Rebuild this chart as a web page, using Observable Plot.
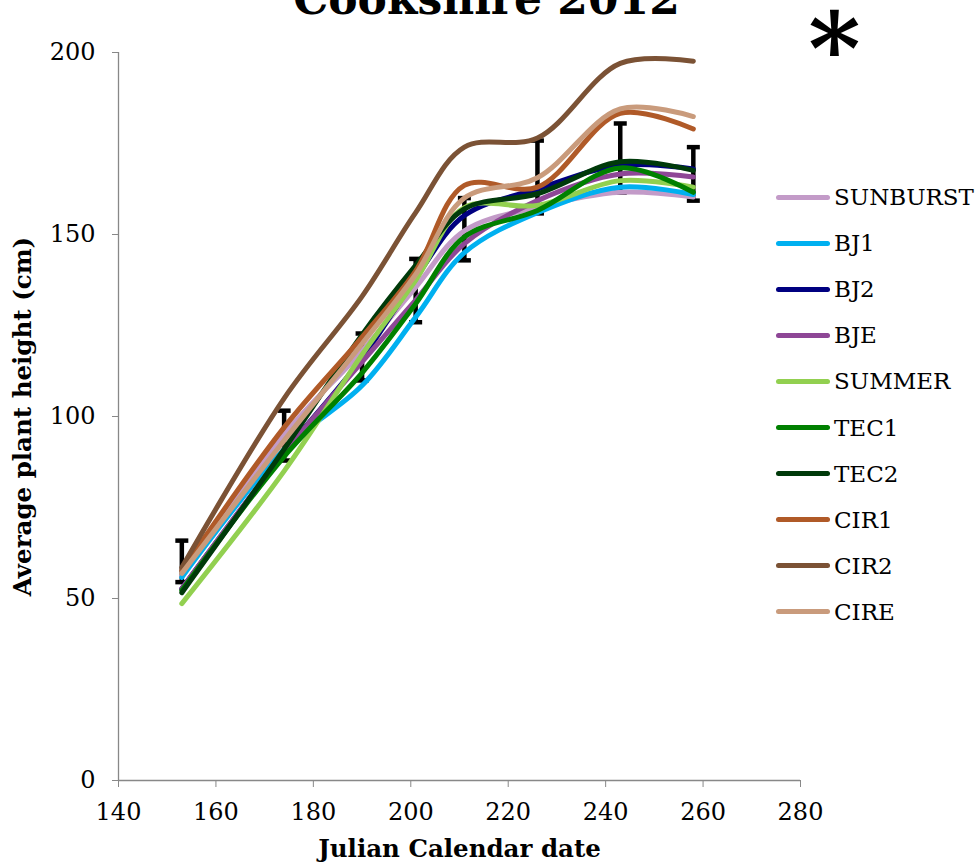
<!DOCTYPE html>
<html><head><meta charset="utf-8">
<script src="https://cdn.jsdelivr.net/npm/d3@7"></script>
<script src="https://cdn.jsdelivr.net/npm/@observablehq/plot@0.6"></script>
<style>
body{margin:0;background:#fff;}
#wrap{position:relative;width:978px;height:863px;overflow:hidden;background:#fff;}
#legend{position:absolute;left:776px;top:174px;font-family:"DejaVu Serif";font-size:23px;color:#000;}
.item{display:flex;align-items:center;height:46.1px;white-space:nowrap;}
.sw{width:54px;height:5px;border-radius:3px;margin-right:4px;}
</style></head>
<body><div id="wrap"></div>
<script>
const dates = [153, 174, 190, 201, 211, 226, 243, 258];
const seriesNames = ["SUNBURST","BJ1","BJ2","BJE","SUMMER","TEC1","TEC2","CIR1","CIR2","CIRE"];
const seriesColors = ["#C39BC8","#00B0F0","#000080","#8E4796","#92D050","#008000","#003A0A","#B05A28","#7B5235","#C99B7C"];
const SUNBURST = [56.3, 95, 118, 135.5, 151, 157.5, 161.6, 160.3];
const BJ1      = [55.8, 91, 108.5, 127.3, 145, 156, 163, 161];
const BJ2      = [52.7, 90, 116, 138, 155.2, 162.5, 169, 168];
const BJE      = [52.7, 90, 115, 132, 147.5, 159.3, 166.6, 165.8];
const SUMMER   = [48.6, 85, 117, 137.4, 157.4, 158, 164.8, 163];
const TEC1     = [52.2, 89, 112, 131, 149.3, 156.6, 168.3, 161.6];
const TEC2     = [51.6, 91, 122.5, 141.5, 157, 161.2, 170, 167.6];
const CIR1     = [57.7, 97, 121.8, 140, 163.5, 163, 183.3, 179];
const CIR2     = [58.5, 105, 133, 156, 174, 176.5, 197, 197.6];
const CIRE     = [56.9, 93.4, 120, 139, 160, 165.6, 184.5, 182.4];
const errLow   = [54.5, 87.9, 109.9, 125.9, 142.9, 155.8, 161.5, 159.3];
const errHigh  = [65.9, 101.6, 122.8, 143.3, 160, 175.8, 180.5, 174];
const xTicks = [140, 160, 180, 200, 220, 240, 260, 280];
const yTicks = [0, 50, 100, 150, 200];

const values = {SUNBURST, BJ1, BJ2, BJE, SUMMER, TEC1, TEC2, CIR1, CIR2, CIRE};
const rows = seriesNames.flatMap(s => dates.map((d, i) => ({series: s, date: d, height: values[s][i]})));
const errRows = dates.map((d, i) => ({date: d, lo: errLow[i], hi: errHigh[i]}));
const caps = errRows.flatMap(e => [{date: e.date, v: e.lo}, {date: e.date, v: e.hi}]);

const capSymbol = {draw(ctx, size) { const r = Math.sqrt(size / Math.PI); ctx.moveTo(-r, 0); ctx.lineTo(r, 0); }};

const chart = Plot.plot({
  width: 978, height: 863,
  marginLeft: 118, marginRight: 178, marginTop: 52, marginBottom: 83,
  style: {fontFamily: "DejaVu Serif", fontSize: "24px", background: "white", color: "black", overflow: "visible"},
  x: {domain: [140, 280]},
  y: {domain: [0, 200]},
  color: {domain: seriesNames, range: seriesColors},
  marks: [
    Plot.axisY({ticks: yTicks, tickSize: 6, tickPadding: 17, stroke: "#888", label: null, fontSize: 24}),
    Plot.axisX({ticks: xTicks, tickSize: 7, tickPadding: 15, stroke: "#888", label: null, fontSize: 24}),
    Plot.ruleX([140], {stroke: "#888", strokeWidth: 1.3}),
    Plot.ruleY([0], {stroke: "#888", strokeWidth: 1.3}),
    Plot.ruleX(errRows, {x: "date", y1: "lo", y2: "hi", stroke: "black", strokeWidth: 4.5}),
    Plot.dot(caps, {x: "date", y: "v", symbol: capSymbol, r: 6.5, stroke: "black", strokeWidth: 4.5, fill: "none"}),
    Plot.line(rows, {x: "date", y: "height", z: "series", stroke: "series", strokeWidth: 5, curve: "catmull-rom", strokeLinecap: "round"}),
    Plot.text(["Julian Calendar date"], {frameAnchor: "bottom", dy: 69, lineAnchor: "middle", textAnchor: "middle", fontWeight: "bold", fontSize: 24.5}),
    Plot.text(["Average plant height (cm)"], {frameAnchor: "left", dx: -95, rotate: -90, lineAnchor: "middle", textAnchor: "middle", fontWeight: "bold", fontSize: 24.5}),
    Plot.text(["Cookshire 2012"], {frameAnchor: "top", dx: 27, dy: -39, lineAnchor: "bottom", fontWeight: "bold", fontSize: 44}),
    Plot.text(["*"], {frameAnchor: "top-right", dx: 60, dy: -40, lineAnchor: "top", fontWeight: "bold", fontSize: 100})
  ]
});
const wrap = document.getElementById("wrap");
wrap.appendChild(chart);

const legend = document.createElement("div");
legend.id = "legend";
seriesNames.forEach((s, i) => {
  const it = document.createElement("div");
  it.className = "item";
  const sw = document.createElement("div");
  sw.className = "sw";
  sw.style.background = seriesColors[i];
  const lb = document.createElement("span");
  lb.textContent = s;
  it.appendChild(sw); it.appendChild(lb);
  legend.appendChild(it);
});
wrap.appendChild(legend);
</script></body></html>
